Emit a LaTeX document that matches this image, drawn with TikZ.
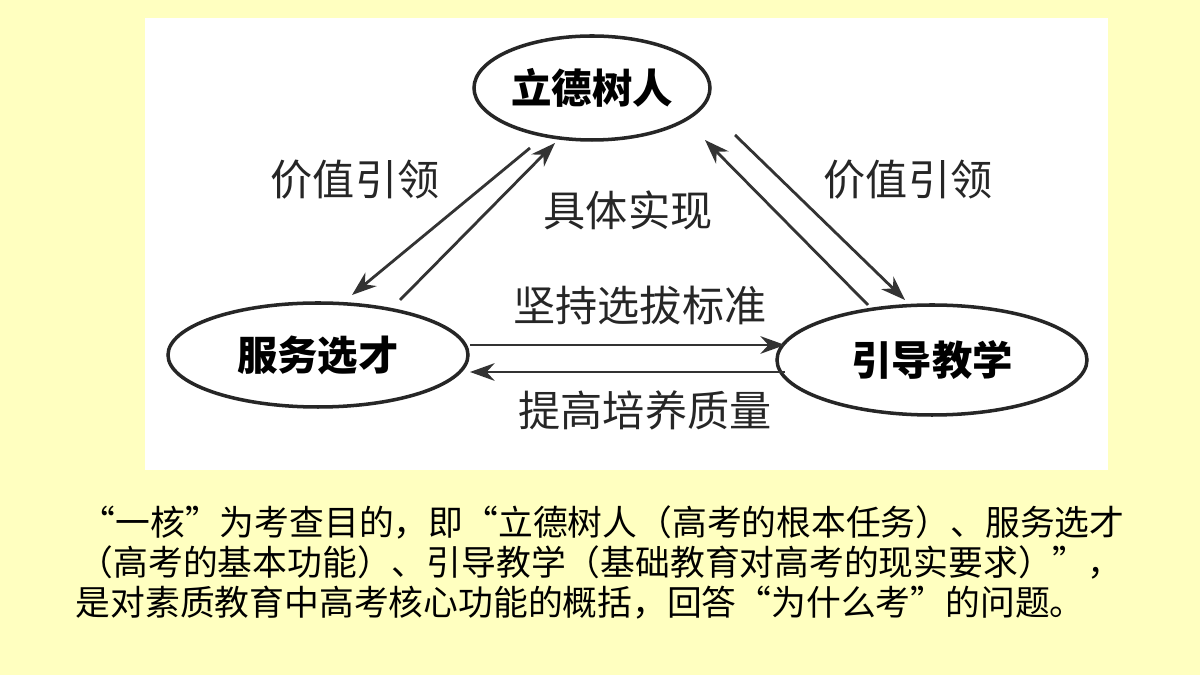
\documentclass[tikz,border=0pt]{standalone}
\usepackage{fontspec}
\newfontfamily\cjk{Noto Sans CJK SC}
\usetikzlibrary{arrows.meta,shapes.geometric}
\begin{document}
\begin{tikzpicture}[x=1cm,y=1cm,
  ell/.style={draw=black!85,line width=1pt,ellipse,inner sep=0pt,fill=white,font=\cjk\fontsize{11.5}{12}\selectfont\bfseries},
  lab/.style={font=\cjk\fontsize{12}{13}\selectfont,text=black!85},
  arr/.style={line width=0.8pt,draw=black!80,-{Stealth[length=7pt,width=5pt]}},
  body/.style={font=\cjk\fontsize{9.9}{11}\selectfont,anchor=west,inner sep=0pt}]
\fill[fill={rgb,255:red,255;green,255;blue,192}] (0,0) rectangle (12,6.75);
\useasboundingbox (0,0) rectangle (12,6.75);
\fill[white] (1.45,2.05) rectangle (11.08,6.57);
\node[ell,minimum width=2.36cm,minimum height=1.04cm] (top) at (5.92,5.87) {立德树人};
\node[ell,minimum width=3.0cm,minimum height=1.04cm] (left) at (3.18,3.20) {服务选才};
\node[ell,minimum width=3.1cm,minimum height=1.1cm] (right) at (9.32,3.15) {引导教学};
\coordinate (a1s) at (5.30,5.27); \coordinate (a1e) at (3.52,3.80);
\coordinate (a2s) at (4.00,3.75); \coordinate (a2e) at (5.55,5.32);
\coordinate (a3s) at (8.68,3.70); \coordinate (a3e) at (7.05,5.35);
\coordinate (a4s) at (7.35,5.40); \coordinate (a4e) at (9.05,3.75);
\coordinate (h1s) at (4.70,3.30); \coordinate (h1e) at (7.85,3.30);
\coordinate (h2s) at (7.85,3.03); \coordinate (h2e) at (4.70,3.03);
\draw[arr] (a1s) -- (a1e);
\draw[arr] (a2s) -- (a2e);
\draw[arr] (a3s) -- (a3e);
\draw[arr] (a4s) -- (a4e);
\draw[arr] (h1s) -- (h1e);
\draw[arr] (h2s) -- (h2e);
\node[lab] (l1) at (3.55,4.95) {价值引领};
\node[lab] (l2) at (6.28,4.65) {具体实现};
\node[lab] (l3) at (9.08,4.95) {价值引领};
\node[lab] (l4) at (6.40,3.70) {坚持选拔标准};
\node[lab] (l5) at (6.45,2.65) {提高培养质量};
\node[body] (t1) at (0.80,1.53) {“一核”为考查目的，即“立德树人（高考的根本任务）、服务选才};
\node[body] (t2) at (0.78,1.13) {（高考的基本功能）、引导教学（基础教育对高考的现实要求）”，};
\node[body] (t3) at (0.75,0.72) {是对素质教育中高考核心功能的概括，回答“为什么考”的问题。};
\end{tikzpicture}
\end{document}
